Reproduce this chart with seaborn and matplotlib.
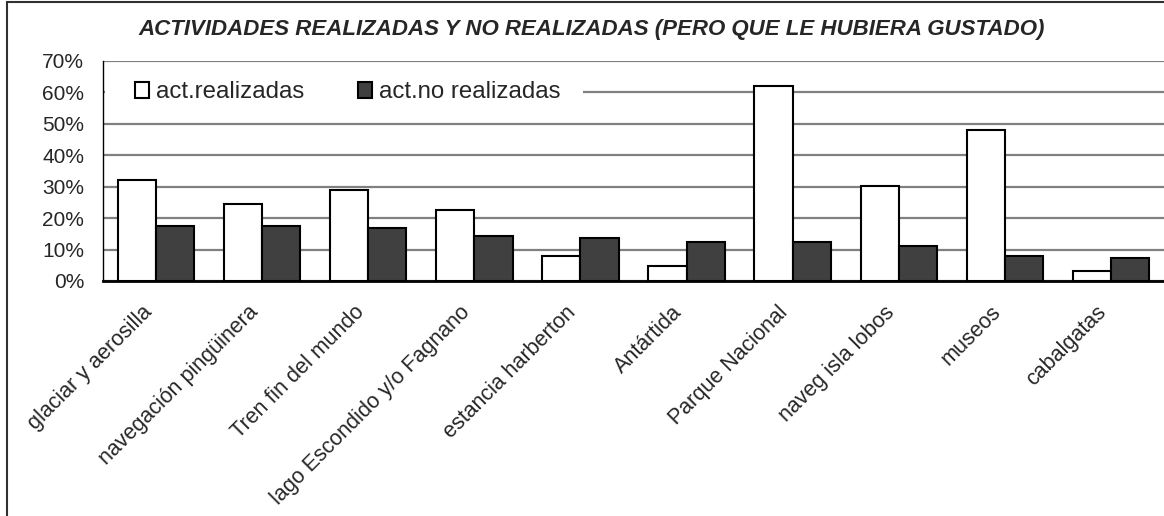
import numpy as np
import pandas as pd
import seaborn as sns
import matplotlib.pyplot as plt
from matplotlib.patches import Rectangle

actividades = ["glaciar y aerosilla", "navegación pingüinera", "Tren fin del mundo",
               "lago Escondido y/o Fagnano", "estancia harberton", "Antártida",
               "Parque Nacional", "naveg isla lobos", "museos", "cabalgatas"]
realizadas = [32.1, 24.5, 28.9, 22.6, 8.0, 4.9, 62.0, 30.2, 47.9, 3.1]
no_realizadas = [17.6, 17.6, 16.9, 14.4, 13.7, 12.5, 12.5, 11.2, 8.0, 7.4]
series = ["act.realizadas", "act.no realizadas"]
yticks = [0, 10, 20, 30, 40, 50, 60, 70]

df = pd.DataFrame({
    "actividad": actividades * 2,
    "serie": [series[0]] * len(actividades) + [series[1]] * len(actividades),
    "valor": realizadas + no_realizadas,
})

sns.set_style("white")
plt.rcParams['font.family'] = ['Liberation Sans', 'DejaVu Sans']

fig = plt.figure(figsize=(11.64, 5.16), dpi=100)
ax = fig.add_axes([103 / 1164, 1 - 281 / 516, 1061 / 1164, 220 / 516])

sns.barplot(data=df, x="actividad", y="valor", hue="serie", order=actividades,
            hue_order=series, palette={series[0]: "white", series[1]: "#404040"},
            edgecolor="black", linewidth=1.5, width=0.72, saturation=1, ax=ax,
            zorder=3)

ax.set_xlim(-0.5, len(actividades) - 0.5)
ax.set_ylim(0, 70)
ax.set_yticks(yticks)
ax.set_yticklabels([f"{v}%" for v in yticks], fontsize=15)
ax.yaxis.grid(True, color="#808080", linewidth=1.6, zorder=0)
ax.set_axisbelow(True)

# labels a bit left of category centres, ticks on category boundaries
ax.set_xticks(np.arange(len(actividades)) - 0.14)
ax.set_xticklabels(actividades, fontsize=15.5, rotation=45, ha="right", va="top",
                   rotation_mode="anchor")
ax.set_xticks(np.arange(-0.5, len(actividades), 1), minor=True)
ax.tick_params(axis="x", which="major", length=0, pad=15)
ax.tick_params(axis="x", which="minor", length=5, width=1, color="black", direction="out")
ax.tick_params(axis="y", length=5, width=1, color="black", direction="out", pad=8.5)

ax.set_xlabel("")
ax.set_ylabel("")
for s in ["top", "right"]:
    ax.spines[s].set_visible(False)
ax.spines["left"].set_color("black")
ax.spines["left"].set_linewidth(1)
ax.spines["bottom"].set_color("black")
ax.spines["bottom"].set_linewidth(2)

# white strip behind the legend breaks the 60% gridline
ax.add_patch(Rectangle((0.002, 57.5), (583 - 103) / 1061 - 0.002, 5,
                       transform=ax.get_yaxis_transform(), facecolor="white",
                       edgecolor="none", zorder=1))

handles, labels = ax.get_legend_handles_labels()
leg = ax.legend(handles, labels, loc="center left", bbox_to_anchor=(0.030, 60 / 70),
                ncol=2, fontsize=17.3, frameon=False, borderaxespad=0,
                handlelength=0.58, handleheight=0.6, handletextpad=0.3,
                columnspacing=2.25, borderpad=0)
leg.set_zorder(5)

fig.text(592 / 1164, 1 - 29 / 516,
         "ACTIVIDADES REALIZADAS Y NO REALIZADAS (PERO QUE LE HUBIERA GUSTADO)",
         ha="center", va="center", fontsize=16, fontweight="bold", fontstyle="italic")

fig.add_artist(Rectangle((6.5 / 1164, -0.5), 2, 0.5 + (516 - 1.5) / 516,
                         transform=fig.transFigure, fill=False, edgecolor="#303030",
                         linewidth=1.5))

fig.savefig("out.png", dpi=100)
